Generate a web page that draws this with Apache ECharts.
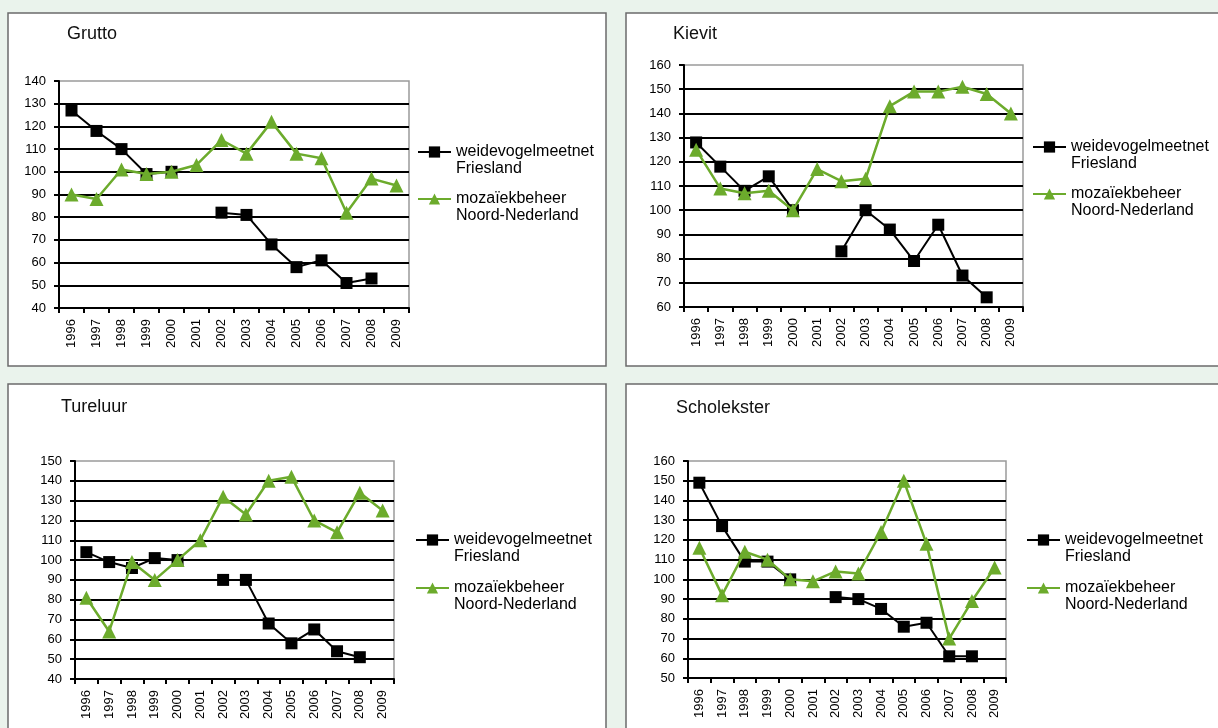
<!DOCTYPE html>
<html>
<head>
<meta charset="utf-8">
<script src="https://cdn.jsdelivr.net/npm/echarts@6/dist/echarts.min.js"></script>
<style>
  html, body { margin: 0; padding: 0; background: #eaf3ec; }
  #chart { width: 1218px; height: 728px; }
</style>
</head>
<body>
<div id="chart"></div>
<script>
// Years on the category axis
const years = ['1996','1997','1998','1999','2000','2001','2002','2003','2004','2005','2006','2007','2008','2009'];

// Series names
const nameFriesland = 'weidevogelmeetnet Friesland';
const nameNoord = 'mozaïekbeheer Noord-Nederland';

// Grutto
const gruttoFriesland = [127, 118, 110, 99, 100, null, 82, 81, 68, 58, 61, 51, 53, null];
const gruttoNoord     = [90, 88, 101, 99, 100, 103, 114, 108, 122, 108, 106, 82, 97, 94];

// Kievit
const kievitFriesland = [128, 118, 108, 114, 100, null, 83, 100, 92, 79, 94, 73, 64, null];
const kievitNoord     = [125, 109, 107, 108, 100, 117, 112, 113, 143, 149, 149, 151, 148, 140];

// Tureluur
const tureluurFriesland = [104, 99, 96, 101, 100, null, 90, 90, 68, 58, 65, 54, 51, null];
const tureluurNoord     = [81, 64, 99, 90, 100, 110, 132, 123, 140, 142, 120, 114, 134, 125];

// Scholekster
const scholeksterFriesland = [149, 127, 109, 109, 100, null, 91, 90, 85, 76, 78, 61, 61, null];
const scholeksterNoord     = [116, 92, 114, 110, 100, 99, 104, 103, 124, 150, 118, 70, 89, 106];

// Value-axis ranges per panel
const yRanges = {
  Grutto:      { min: 40, max: 140 },
  Kievit:      { min: 60, max: 160 },
  Tureluur:    { min: 40, max: 150 },
  Scholekster: { min: 50, max: 160 }
};

const FONT = '"Liberation Sans", Arial, sans-serif';
const GREEN = '#6cab2c';

// Panel layout: frame, plot grid, title position, legend position
const panels = [
  { title: 'Grutto', a: gruttoFriesland, b: gruttoNoord,
    frame: [8, 13, 598, 353], grid: [59, 81, 350, 227], titlePos: [67, 25],
    legend: [417, 152, 199] },
  { title: 'Kievit', a: kievitFriesland, b: kievitNoord,
    frame: [626, 13, 610, 353], grid: [684, 65, 339, 242], titlePos: [673, 25],
    legend: [1032, 147, 194] },
  { title: 'Tureluur', a: tureluurFriesland, b: tureluurNoord,
    frame: [8, 384, 598, 360], grid: [75, 461, 319, 218], titlePos: [61, 398],
    legend: [415, 540, 588] },
  { title: 'Scholekster', a: scholeksterFriesland, b: scholeksterNoord,
    frame: [626, 384, 610, 360], grid: [688, 461, 318, 217], titlePos: [676, 399],
    legend: [1026, 540, 588] }
];

const grids = [], xAxes = [], yAxes = [], series = [], titles = [], legends = [], frames = [];

const LEGEND_LINE = 16.5;

panels.forEach((p, i) => {
  const r = yRanges[p.title];
  frames.push({
    type: 'rect', z: -10,
    shape: { x: p.frame[0], y: p.frame[1], width: p.frame[2], height: p.frame[3] },
    style: { fill: '#ffffff', stroke: '#6b6b6b', lineWidth: 1.5 }
  });
  grids.push({
    left: p.grid[0], top: p.grid[1], width: p.grid[2], height: p.grid[3],
    show: true, backgroundColor: 'transparent', borderColor: '#9a9a9a', borderWidth: 1.5
  });
  xAxes.push({
    type: 'category', gridIndex: i, data: years, boundaryGap: true,
    axisLine: { lineStyle: { color: '#000', width: 2 } },
    axisTick: { show: true, length: 5, lineStyle: { color: '#000', width: 2 } },
    axisLabel: { rotate: 90, margin: 11, color: '#000', fontSize: 13, fontFamily: FONT },
    splitLine: { show: false }
  });
  yAxes.push({
    type: 'value', gridIndex: i, min: r.min, max: r.max, interval: 10,
    axisLine: { show: true, lineStyle: { color: '#000', width: 2 } },
    axisTick: { show: true, length: 5, lineStyle: { color: '#000', width: 2 } },
    axisLabel: { margin: 13, color: '#000', fontSize: 13, fontFamily: FONT },
    splitLine: { show: true, showMaxLine: false, lineStyle: { color: '#000', width: 2 } }
  });
  series.push({
    name: nameFriesland, type: 'line', xAxisIndex: i, yAxisIndex: i, data: p.a,
    symbol: 'rect', symbolSize: 12, connectNulls: false,
    lineStyle: { color: '#000', width: 2 }, itemStyle: { color: '#000' }, z: 3
  });
  series.push({
    name: nameNoord, type: 'line', xAxisIndex: i, yAxisIndex: i, data: p.b,
    symbol: 'triangle', symbolSize: 14,
    lineStyle: { color: GREEN, width: 2.5 }, itemStyle: { color: GREEN }, z: 4
  });
  titles.push({
    text: p.title, left: p.titlePos[0], top: p.titlePos[1], padding: 0,
    textStyle: { color: '#111', fontSize: 18, fontWeight: 'normal', fontFamily: FONT }
  });
  // Each legend entry is its own legend so the marker lines up with the first text line:
  // an empty leading line keeps the first text line at the vertical centre of the block.
  [nameFriesland, nameNoord].forEach((nm, k) => {
    const cy = p.legend[1 + k];
    legends.push({
      data: [nm], orient: 'vertical', left: p.legend[0], top: cy - LEGEND_LINE * 1.5,
      padding: 0, itemWidth: 33, itemHeight: 14, selectedMode: false,
      formatter: n => '\n' + n.replace(' ', '\n'),
      textStyle: { color: '#000', fontSize: 16, fontFamily: FONT, lineHeight: LEGEND_LINE }
    });
  });
});

const chart = echarts.init(document.getElementById('chart'), null, { renderer: 'canvas' });
chart.setOption({
  backgroundColor: '#eaf3ec',
  animation: false,
  graphic: { elements: frames, z: -10 },
  title: titles,
  legend: legends,
  grid: grids,
  xAxis: xAxes,
  yAxis: yAxes,
  series: series
});
</script>
</body>
</html>
